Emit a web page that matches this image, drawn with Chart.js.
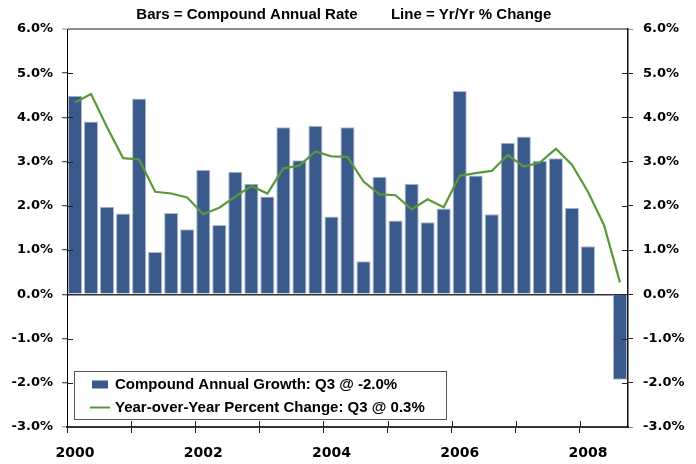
<!DOCTYPE html>
<html><head><meta charset="utf-8">
<script src="https://cdn.jsdelivr.net/npm/chart.js@4.4.1/dist/chart.umd.min.js"></script>
<style>html,body{margin:0;padding:0;background:#fff}#wrap{width:696px;height:464px}</style>
</head><body><div id="wrap"><canvas id="c" width="696" height="464"></canvas></div>
<script>
const quarters = [
  '2000 Q1','2000 Q2','2000 Q3','2000 Q4',
  '2001 Q1','2001 Q2','2001 Q3','2001 Q4',
  '2002 Q1','2002 Q2','2002 Q3','2002 Q4',
  '2003 Q1','2003 Q2','2003 Q3','2003 Q4',
  '2004 Q1','2004 Q2','2004 Q3','2004 Q4',
  '2005 Q1','2005 Q2','2005 Q3','2005 Q4',
  '2006 Q1','2006 Q2','2006 Q3','2006 Q4',
  '2007 Q1','2007 Q2','2007 Q3','2007 Q4',
  '2008 Q1','2008 Q2','2008 Q3'
];
const compoundAnnualGrowth = [
  4.49, 3.91, 1.98, 1.83,
  4.43, 0.96, 1.84, 1.47,
  2.82, 1.57, 2.77, 2.50,
  2.21, 3.78, 3.03, 3.81,
  1.76, 3.78, 0.75, 2.66,
  1.67, 2.50, 1.63, 1.94,
  4.60, 2.69, 1.81, 3.43,
  3.57, 3.02, 3.08, 1.96,
  1.09, 0.00, -1.93
];
const yearOverYear = [
  4.34, 4.53, 3.78, 3.08,
  3.05, 2.32, 2.28, 2.19,
  1.81, 1.96, 2.21, 2.45,
  2.28, 2.85, 2.91, 3.23,
  3.12, 3.11, 2.55, 2.26,
  2.24, 1.92, 2.15, 1.97,
  2.68, 2.74, 2.79, 3.15,
  2.89, 2.98, 3.29, 2.93,
  2.32, 1.57, 0.27
];
const yearLabels = ['2000','2001','2002','2003','2004','2005','2006','2007','2008'];
const yTickValues = [-3,-2,-1,0,1,2,3,4,5,6];
const barLabel = 'Compound Annual Growth: Q3 @ -2.0%';
const lineLabel = 'Year-over-Year Percent Change: Q3 @ 0.3%';
const titleText = 'Bars = Compound Annual Rate        Line = Yr/Yr % Change  ';

const barPoints = quarters.map((q, i) => ({x: i + 0.5, y: compoundAnnualGrowth[i]}));
const linePoints = quarters.map((q, i) => ({x: i + 0.5, y: yearOverYear[i]}));

const tickFont = {family: "'DejaVu Sans', sans-serif", size: 13, weight: 'bold'};
const textFont = "'Liberation Sans', Arial, sans-serif";

const innerTicks = {
  id: 'innerTicks',
  afterDatasetsDraw(chart) {
    const ctx = chart.ctx, a = chart.chartArea;
    const ys = chart.scales.y, xs = chart.scales.x;
    ctx.save();
    ctx.strokeStyle = '#222';
    ctx.lineWidth = 1;
    ctx.beginPath();
    ys.ticks.forEach(t => {
      const py = Math.round(ys.getPixelForValue(t.value)) + 0.5;
      if (t.value === 6 || t.value === -3) return;
      ctx.moveTo(a.left, py); ctx.lineTo(a.left + 6, py);
      ctx.moveTo(a.right - 6, py); ctx.lineTo(a.right, py);
    });
    xs.ticks.forEach(t => {
      const px = Math.round(xs.getPixelForValue(t.value)) + 0.5;
      if (t.value === 0) return;
      ctx.moveTo(px, a.bottom); ctx.lineTo(px, a.bottom - 6);
    });
    ctx.stroke();
    ctx.restore();
  }
};

const boxLegend = {
  id: 'boxLegend',
  afterDraw(chart) {
    const ctx = chart.ctx, a = chart.chartArea;
    const bx = a.left + 7.5, by = a.bottom - 55.5, bw = 372, bh = 48;
    ctx.save();
    ctx.fillStyle = '#fff';
    ctx.fillRect(bx, by, bw, bh);
    ctx.strokeStyle = '#555';
    ctx.lineWidth = 1;
    ctx.strokeRect(bx, by, bw, bh);
    const dsBar = chart.data.datasets[1], dsLine = chart.data.datasets[0];
    ctx.fillStyle = dsBar.backgroundColor;
    ctx.fillRect(bx + 17.5, by + 9, 16, 8);
    ctx.strokeStyle = dsLine.borderColor;
    ctx.lineWidth = 2;
    ctx.beginPath();
    ctx.moveTo(bx + 15.5, by + 36); ctx.lineTo(bx + 35.5, by + 36);
    ctx.stroke();
    ctx.fillStyle = '#000';
    ctx.font = "bold 15px " + textFont;
    ctx.textBaseline = 'middle';
    ctx.textAlign = 'left';
    ctx.fillText(dsBar.label, bx + 40.5, by + 13.5);
    ctx.fillText(dsLine.label, bx + 40.5, by + 36.5);
    ctx.restore();
  }
};

new Chart(document.getElementById('c'), {
  type: 'bar',
  data: {
    datasets: [
      {type: 'line', label: lineLabel, data: linePoints, borderColor: '#5b9838', borderWidth: 2.2,
       pointRadius: 0, tension: 0, yAxisID: 'y', order: 0},
      {type: 'bar', label: barLabel, data: barPoints, backgroundColor: '#3a5a8c', borderColor: '#aebbd2',
       borderWidth: 1, barPercentage: 0.88, categoryPercentage: 1, yAxisID: 'y', order: 1}
    ]
  },
  options: {
    responsive: false,
    animation: false,
    layout: {padding: 0},
    plugins: {
      legend: {display: false},
      tooltip: {enabled: false},
      title: {display: true, text: titleText, color: '#000',
        font: {family: textFont, size: 15, weight: 'bold', lineHeight: 1.2},
        padding: {top: 6, bottom: 5}}
    },
    scales: {
      x: {
        type: 'linear', min: 0, max: 35, offset: false,
        afterBuildTicks: s => { s.ticks = yearLabels.map((y, k) => ({value: k * 4})); },
        ticks: {
          callback: v => { const k = Math.round(v / 4); return k % 2 === 0 ? yearLabels[k] : ''; },
          labelOffset: 8, padding: 12, maxRotation: 0, autoSkip: false,
          font: {family: "'DejaVu Sans', sans-serif", size: 14, weight: 'bold'}, color: '#000'
        },
        grid: {drawOnChartArea: false, offset: false, tickLength: 6, tickColor: '#222', tickWidth: 1},
        border: {color: '#333', width: 2},
        afterFit: s => { s.height = 37; }
      },
      y: {
        position: 'left', min: -3, max: 6,
        afterBuildTicks: s => { s.ticks = yTickValues.map(v => ({value: v})); },
        ticks: {callback: v => Number(v).toFixed(1) + '%', padding: 9, font: tickFont, color: '#000'},
        grid: {
          color: c => c.tick && c.tick.value === 0 ? '#333' : (c.tick && c.tick.value === 6 ? '#8c8c8c' : 'rgba(0,0,0,0)'),
          lineWidth: c => c.tick && c.tick.value === 6 ? 2 : 1.5,
          tickColor: c => c.tick && (c.tick.value === 6 || c.tick.value === -3) ? '#8c8c8c' : '#222',
          tickWidth: 1, tickLength: 5
        },
        border: {color: '#000', width: 1},
        afterFit: s => { s.width = 67; }
      },
      y2: {
        position: 'right', min: -3, max: 6,
        afterBuildTicks: s => { s.ticks = yTickValues.map(v => ({value: v})); },
        ticks: {callback: v => Number(v).toFixed(1) + '%', padding: 10, font: tickFont, color: '#000'},
        grid: {drawOnChartArea: false, tickLength: 5,
          tickColor: c => c.tick && (c.tick.value === 6 || c.tick.value === -3) ? '#8c8c8c' : '#222', tickWidth: 1},
        border: {color: '#111', width: 1.5},
        afterFit: s => { s.width = 68; }
      }
    }
  },
  plugins: [innerTicks, boxLegend]
});
</script>
</body></html>
